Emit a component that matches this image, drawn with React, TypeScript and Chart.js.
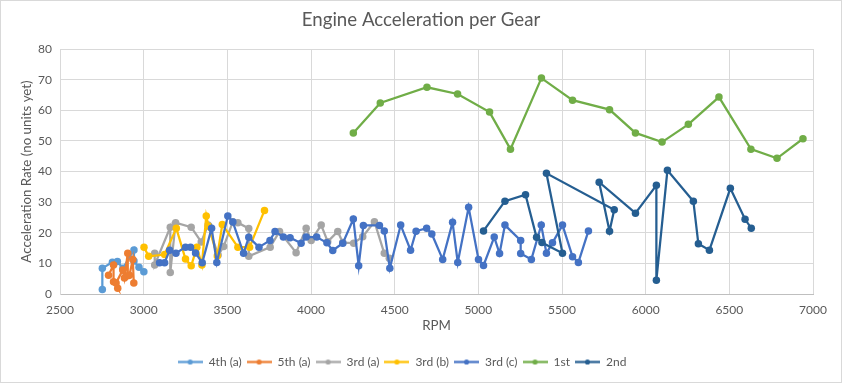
import React, { useEffect, useRef } from "react";
import { Chart, registerables } from "chart.js";

Chart.register(...registerables);

const chartTitle = "Engine Acceleration per Gear";
const xAxisTitle = "RPM";
const yAxisTitle = "Acceleration Rate (no units yet)";

const seriesNames = ["4th (a)", "5th (a)", "3rd (a)", "3rd (b)", "3rd (c)", "1st", "2nd"];
const seriesColors = ["#5B9BD5", "#ED7D31", "#A5A5A5", "#FFC000", "#4472C4", "#70AD47", "#255E91"];

const xMin = 2500;
const xMax = 7000;
const xStep = 500;
const yMin = 0;
const yMax = 80;
const yStep = 10;

const gear4aRpm = [2753, 2753, 2813, 2843, 2876, 2942, 2942, 2972, 3001];
const gear4aAcc = [1.5, 8.4, 10.4, 10.6, 8.4, 14.4, 10.8, 8.7, 7.3];

const gear5aRpm = [2790, 2820, 2820, 2845, 2835, 2875, 2885, 2905, 2905, 2915, 2935, 2941];
const gear5aAcc = [6.1, 9.5, 4.0, 1.9, 3.6, 7.8, 5.2, 13.3, 6.0, 6.1, 11.3, 3.6];

const gear3aRpm = [3066, 3066, 3159, 3159, 3191, 3284, 3344, 3385, 3445, 3478, 3533, 3563, 3628, 3628, 3756, 3812, 3911, 3971, 4001, 4061, 4100, 4160, 4190, 4255, 4309, 4379, 4438, 4468];
const gear3aAcc = [13.3, 9.5, 21.8, 7.0, 23.3, 21.8, 17.0, 22.5, 12.7, 15.5, 23.6, 23.3, 21.4, 12.3, 15.3, 20.4, 13.5, 21.5, 17.5, 22.5, 17.1, 20.4, 16.8, 16.6, 18.7, 23.6, 13.3, 11.7];

const gear3bRpm = [3002, 3030, 3125, 3195, 3250, 3284, 3318, 3348, 3374, 3388, 3440, 3470, 3563, 3633, 3722];
const gear3bAcc = [15.3, 12.3, 12.9, 21.5, 11.4, 9.2, 15.3, 9.5, 25.5, 22.1, 12.4, 22.7, 15.3, 15.3, 27.3];

const gear3cRpm = [3095, 3125, 3155, 3193, 3250, 3280, 3310, 3350, 3406, 3437, 3503, 3533, 3597, 3628, 3689, 3755, 3785, 3835, 3875, 3941, 3971, 4034, 4095, 4130, 4190, 4253, 4285, 4313, 4409, 4438, 4471, 4536, 4595, 4628, 4691, 4722, 4787, 4846, 4877, 4942, 5001, 5031, 5095, 5127, 5159, 5253, 5253, 5317, 5376, 5407, 5443, 5503, 5563, 5598, 5658];
const gear3cAcc = [10.2, 10.2, 14.3, 13.3, 15.3, 15.3, 13.4, 10.2, 21.5, 10.3, 25.5, 23.5, 13.3, 18.5, 15.3, 17.5, 20.4, 18.6, 18.4, 16.6, 18.6, 18.6, 16.7, 14.2, 16.6, 24.5, 9.2, 22.4, 22.4, 20.6, 8.4, 22.5, 14.3, 20.5, 21.5, 19.6, 11.3, 23.4, 10.3, 28.3, 11.3, 9.3, 18.6, 13.2, 22.5, 17.5, 13.2, 11.3, 22.5, 13.3, 16.7, 22.5, 12.2, 10.3, 20.6];

const gear1Rpm = [4253, 4414, 4693, 4876, 5067, 5192, 5377, 5563, 5784, 5939, 6098, 6255, 6438, 6629, 6785, 6940];
const gear1Acc = [52.6, 62.4, 67.5, 65.3, 59.4, 47.3, 70.5, 63.3, 60.2, 52.6, 49.6, 55.4, 64.3, 47.3, 44.3, 50.7];

const gear2Rpm = [5031, 5159, 5282, 5348, 5380, 5503, 5407, 5812, 5784, 5722, 5939, 6064, 6064, 6130, 6285, 6315, 6381, 6506, 6594, 6631];
const gear2Acc = [20.6, 30.3, 32.4, 18.5, 16.8, 13.3, 39.4, 27.5, 20.5, 36.5, 26.4, 35.5, 4.5, 40.4, 30.3, 16.4, 14.3, 34.5, 24.4, 21.5];

const seriesRpm = [gear4aRpm, gear5aRpm, gear3aRpm, gear3bRpm, gear3cRpm, gear1Rpm, gear2Rpm];
const seriesAcc = [gear4aAcc, gear5aAcc, gear3aAcc, gear3bAcc, gear3cAcc, gear1Acc, gear2Acc];

const FONT = "Lato, 'Open Sans', sans-serif";
const TEXT = "#595959";

function legendImage(color: string) {
  const c = document.createElement("canvas");
  c.width = 25;
  c.height = 9;
  const ctx = c.getContext("2d")!;
  ctx.strokeStyle = color;
  ctx.lineWidth = 2.25;
  ctx.beginPath();
  ctx.moveTo(0, 4.5);
  ctx.lineTo(25, 4.5);
  ctx.stroke();
  ctx.fillStyle = color;
  ctx.beginPath();
  ctx.arc(12.5, 4.5, 2.6, 0, Math.PI * 2);
  ctx.fill();
  return c;
}

const framePlugin = {
  id: "frame",
  beforeDraw(chart: any) {
    const { ctx, width, height } = chart;
    ctx.save();
    ctx.fillStyle = "#ffffff";
    ctx.fillRect(0, 0, width, height);
    ctx.restore();
  },
  afterLayout(chart: any) {
    const lg = chart.legend;
    if (lg) {
      lg.left -= 19;
      lg.right -= 19;
    }
  },
  afterDraw(chart: any) {
    const { ctx, width, height } = chart;
    ctx.save();
    ctx.strokeStyle = "#d9d9d9";
    ctx.lineWidth = 1;
    ctx.strokeRect(0.5, 0.5, width - 1, height - 1);
    ctx.restore();
  },
};

export default function App() {
  const ref = useRef<HTMLCanvasElement | null>(null);

  useEffect(() => {
    document.body.style.margin = "0";
    const images = seriesColors.map((c) => legendImage(c));
    const datasets = seriesNames.map((name, i) => ({
      label: name,
      data: seriesRpm[i].map((x, j) => ({ x, y: seriesAcc[i][j] })),
      showLine: true,
      borderColor: seriesColors[i],
      backgroundColor: seriesColors[i],
      borderWidth: 2.25,
      pointRadius: 3.75,
      pointBorderWidth: 0,
      pointBackgroundColor: seriesColors[i],
      order: -i,
      xAxisID: "x",
      yAxisID: "y",
    }));

    const chart = new Chart(ref.current!, {
      type: "scatter",
      data: { datasets },
      plugins: [framePlugin],
      options: {
        animation: false,
        responsive: true,
        maintainAspectRatio: false,
        events: [],
        layout: { padding: { left: 0, right: 0, top: 0, bottom: 5 } },
        plugins: {
          tooltip: { enabled: false },
          title: {
            display: true,
            text: chartTitle,
            color: TEXT,
            font: { family: FONT, size: 18.67, weight: "normal" },
            padding: { top: 9, bottom: 17.6 },
          },
          legend: {
            display: true,
            position: "bottom",
            labels: {
              color: TEXT,
              font: { family: FONT, size: 12 },
              usePointStyle: true,
              pointStyleWidth: 25,
              boxHeight: 12,
              padding: 5,
              generateLabels: () =>
                seriesNames.map((name, i) => ({
                  text: name,
                  fillStyle: seriesColors[i],
                  strokeStyle: seriesColors[i],
                  fontColor: TEXT,
                  lineWidth: 0,
                  pointStyle: images[i],
                  datasetIndex: i,
                  hidden: false,
                })),
            },
          },
        },
        scales: {
          x: {
            type: "linear",
            position: "bottom",
            min: xMin,
            max: xMax,
            ticks: {
              stepSize: xStep,
              color: TEXT,
              font: { family: FONT, size: 12 },
              padding: 9,
              maxRotation: 0,
              callback: (v: any) => String(v),
            },
            grid: { color: "#d9d9d9", drawTicks: false, lineWidth: 1 },
            border: { color: "#bfbfbf", width: 1 },
            title: {
              display: true,
              text: xAxisTitle,
              color: TEXT,
              font: { family: FONT, size: 13.33 },
              padding: { top: 0, bottom: 17 },
            },
            afterFit: (s: any) => {
              s.height = 57;
            },
          },
          y: {
            type: "linear",
            position: "left",
            min: yMin,
            max: yMax,
            ticks: {
              stepSize: yStep,
              color: TEXT,
              font: { family: FONT, size: 12 },
              padding: 8,
            },
            grid: { color: "#d9d9d9", drawTicks: false, lineWidth: 1 },
            border: { color: "#d9d9d9", width: 1 },
            title: {
              display: true,
              text: yAxisTitle,
              color: TEXT,
              font: { family: FONT, size: 13.33 },
              padding: { top: 19, bottom: 0 },
            },
            afterFit: (s: any) => {
              s.width = 60;
            },
          },
          yRight: {
            type: "linear",
            position: "right",
            display: true,
            grid: { display: false, drawTicks: false },
            ticks: { display: false },
            border: { display: false },
            afterFit: (s: any) => {
              s.width = 29;
            },
          },
        },
      },
    } as any);

    return () => chart.destroy();
  }, []);

  return (
    <div style={{ position: "fixed", left: 0, top: 0, width: 842, height: 383 }}>
      <canvas ref={ref} />
    </div>
  );
}
